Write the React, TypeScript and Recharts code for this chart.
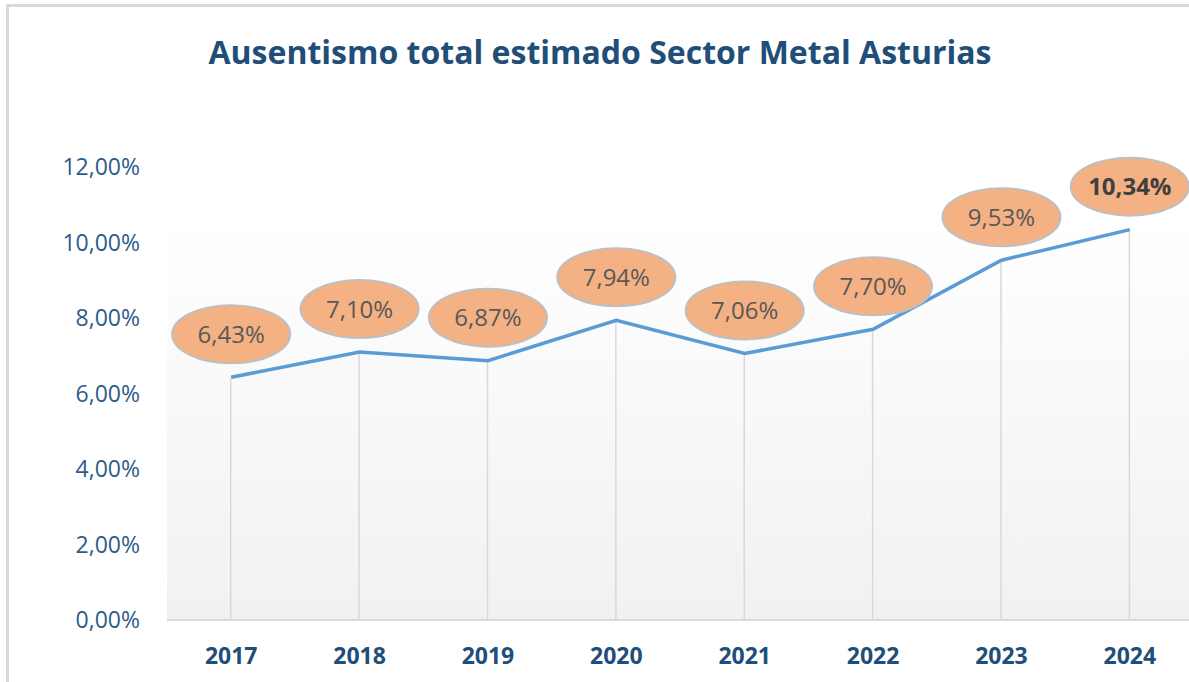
import React from 'react';
import {
  ComposedChart,
  Line,
  Bar,
  XAxis,
  YAxis,
  ReferenceArea,
  LabelList,
} from 'recharts';

// Ausentismo total estimado (%), Sector Metal Asturias
const years = ['2017', '2018', '2019', '2020', '2021', '2022', '2023', '2024'];
const absenteeism = [6.43, 7.1, 6.87, 7.94, 7.06, 7.7, 9.53, 10.34];
const yTicks = [0, 2, 4, 6, 8, 10, 12];
const boldYear = '2024';

const TITLE = 'Ausentismo total estimado Sector Metal Asturias';
const FONT = '"Open Sans", sans-serif';
const NAVY = '#1F4E79';

const data = years.map((year, i) => ({ year, value: absenteeism[i] }));

const fmtPct = (v: number) => `${v.toFixed(2).replace('.', ',')}%`;

function BubbleLabel(props: any) {
  const { x, y, value, index } = props;
  if (x == null || y == null) return null;
  const bold = years[index] === boldYear;
  const cy = y - 43;
  return (
    <g>
      <ellipse cx={x} cy={cy} rx={59} ry={29} fill="#F4B183" stroke="#BFBFBF" strokeWidth={2} />
      <text
        x={x}
        y={cy}
        dy="0.36em"
        textAnchor="middle"
        fontFamily={FONT}
        fontSize={24}
        fontWeight={bold ? 700 : 400}
        fill={bold ? '#404040' : '#595959'}
      >
        {fmtPct(Number(value))}
      </text>
    </g>
  );
}

export default function App() {
  return (
    <div
      style={{
        position: 'fixed',
        left: 0,
        top: 0,
        width: 1189,
        height: 682,
        overflow: 'hidden',
        background: '#fff',
        fontFamily: FONT,
      }}
    >
      <div
        style={{
          position: 'absolute',
          top: 30,
          left: 0,
          width: 1200,
          textAlign: 'center',
          fontSize: 32,
          lineHeight: '44px',
          fontWeight: 700,
          color: NAVY,
          whiteSpace: 'nowrap',
        }}
      >
        {TITLE}
      </div>
      <div style={{ position: 'absolute', left: 0, top: 0 }}>
        <ComposedChart
          width={1195}
          height={682}
          data={data}
          margin={{ top: 167, right: 1, bottom: 0, left: 0 }}
        >
          <defs>
            <linearGradient id="plotBg" x1="0" y1="0" x2="0" y2="1">
              <stop offset="0%" stopColor="#ffffff" />
              <stop offset="100%" stopColor="#f1f1f1" />
            </linearGradient>
          </defs>
          <XAxis
            dataKey="year"
            height={62}
            tickSize={0}
            tickMargin={28}
            tickLine={false}
            axisLine={{ stroke: '#d9d9d9', strokeWidth: 2 }}
            tick={{ fontFamily: FONT, fontSize: 23, fontWeight: 700, fill: NAVY }}
          />
          <YAxis
            width={167}
            domain={[0, 12]}
            ticks={yTicks}
            tickFormatter={fmtPct}
            tickSize={0}
            tickMargin={27}
            tickLine={false}
            axisLine={false}
            tick={{ fontFamily: FONT, fontSize: 23, fill: '#2E5C8A' }}
          />
          <ReferenceArea y1={0} y2={10.62} fill="url(#plotBg)" fillOpacity={1} stroke="none" />
          <Bar dataKey="value" barSize={1.5} fill="#d9d9d9" isAnimationActive={false} />
          <Line
            dataKey="value"
            stroke="#5B9BD5"
            strokeWidth={3.5}
            dot={false}
            activeDot={false}
            isAnimationActive={false}
          >
            <LabelList dataKey="value" content={BubbleLabel} />
          </Line>
        </ComposedChart>
      </div>
      <div
        style={{
          position: 'absolute',
          left: 6,
          top: 4,
          width: 1400,
          height: 900,
          boxSizing: 'border-box',
          borderTop: '3px solid #d9d9d9',
          borderLeft: '3px solid #d9d9d9',
          zIndex: 5,
          pointerEvents: 'none',
        }}
      />
    </div>
  );
}
